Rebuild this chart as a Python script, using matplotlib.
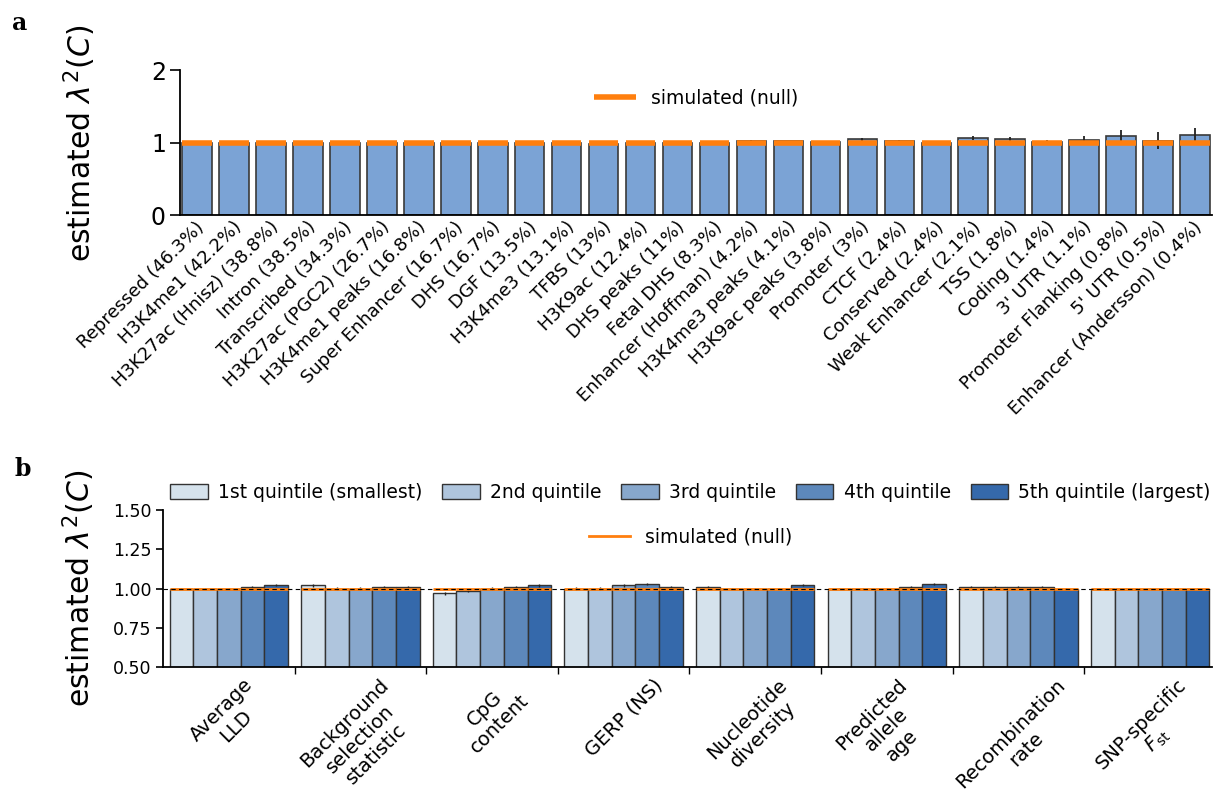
import matplotlib
matplotlib.use('Agg')
import matplotlib.pyplot as plt
import matplotlib.transforms as mtransforms
import numpy as np

# panel a: annotation categories (share of SNPs)
categories_a = ['Repressed (46.3%)', 'H3K4me1 (42.2%)', 'H3K27ac (Hnisz) (38.8%)', 'Intron (38.5%)',
                'Transcribed (34.3%)', 'H3K27ac (PGC2) (26.7%)', 'H3K4me1 peaks (16.8%)',
                'Super Enhancer (16.7%)', 'DHS (16.7%)', 'DGF (13.5%)', 'H3K4me3 (13.1%)', 'TFBS (13%)',
                'H3K9ac (12.4%)', 'DHS peaks (11%)', 'Fetal DHS (8.3%)', 'Enhancer (Hoffman) (4.2%)',
                'H3K4me3 peaks (4.1%)', 'H3K9ac peaks (3.8%)', 'Promoter (3%)', 'CTCF (2.4%)',
                'Conserved (2.4%)', 'Weak Enhancer (2.1%)', 'TSS (1.8%)', 'Coding (1.4%)',
                "3' UTR (1.1%)", 'Promoter Flanking (0.8%)', "5' UTR (0.5%)", 'Enhancer (Andersson) (0.4%)']
est_a = [1.00, 0.995, 1.00, 1.00, 0.995, 0.995, 1.00, 1.00, 1.00, 0.995, 0.995, 0.99, 0.995, 1.00,
         1.00, 1.03, 1.02, 1.01, 1.05, 1.02, 1.00, 1.07, 1.05, 1.01, 1.04, 1.10, 1.03, 1.11]
err_a = [0.003, 0.003, 0.004, 0.004, 0.004, 0.004, 0.005, 0.006, 0.006, 0.005, 0.006, 0.006, 0.006, 0.007,
         0.008, 0.012, 0.010, 0.010, 0.020, 0.012, 0.012, 0.025, 0.025, 0.035, 0.055, 0.070, 0.120, 0.100]
null_a = [1.0] * len(categories_a)

# panel b: quintiles of continuous annotations
categories_b = ['Average\nLLD', 'Background\nselection\nstatistic', 'CpG\ncontent', 'GERP (NS)',
                'Nucleotide\ndiversity', 'Predicted\nallele\nage', 'Recombination\nrate',
                'SNP-specific\n$F_{\\rm st}$']
quintile_labels = ['1st quintile (smallest)', '2nd quintile', '3rd quintile', '4th quintile',
                   '5th quintile (largest)']
q1 = [1.00, 1.02, 0.97, 1.00, 1.01, 1.00, 1.01, 1.00]
q2 = [1.00, 1.00, 0.985, 1.00, 1.00, 1.00, 1.01, 1.00]
q3 = [1.00, 1.00, 1.00, 1.02, 1.00, 1.00, 1.01, 1.00]
q4 = [1.01, 1.01, 1.01, 1.03, 1.00, 1.01, 1.01, 1.00]
q5 = [1.02, 1.01, 1.02, 1.01, 1.02, 1.03, 1.00, 1.00]
q_err = [0.006, 0.008, 0.008, 0.007, 0.006, 0.005, 0.004, 0.003]
null_b = 1.0

quintile_colors = ['#d5e2ec', '#afc5dd', '#87a7cc', '#5d88bb', '#3569ab']
orange = '#ff7f0e'

fig = plt.figure(figsize=(12.19, 8.09), dpi=100)

# ---- panel a ----
ax1 = fig.add_axes([0.148, 0.734, 0.846, 0.179])
x = np.arange(len(categories_a))
ax1.bar(x, est_a, width=0.8, yerr=err_a, color='#7ba3d5', edgecolor='#3a3a3a', linewidth=1.2,
        error_kw=dict(ecolor='#222222', elinewidth=1.3, capsize=0), zorder=2)
ax1.hlines(null_a, x - 0.4, x + 0.4, color=orange, lw=4, label='simulated (null)', zorder=3)
ax1.set_xlim(-0.45, len(categories_a) - 0.55)
ax1.set_ylim(0, 2)
ax1.set_yticks([0, 1, 2])
ax1.tick_params(axis='y', labelsize=17, length=7, width=1.2)
ax1.set_xticks(x)
ax1.set_xticklabels(categories_a, rotation=45, ha='right', fontsize=13)
ax1.tick_params(axis='x', length=0, pad=2)
# nudge the rotated labels a little to the right, like the original
shift = mtransforms.ScaledTranslation(8 / 72, 0, fig.dpi_scale_trans)
for lbl in ax1.get_xticklabels():
    lbl.set_transform(lbl.get_transform() + shift)
ax1.spines[['top', 'right']].set_visible(False)
ax1.spines[['bottom', 'left']].set_linewidth(1.3)
ax1.set_ylabel(r'estimated $\lambda^2(C)$', fontsize=21.5)
ax1.yaxis.set_label_coords(-0.080, 0.5)
ax1.legend(loc='center', bbox_to_anchor=(0.50, 0.81), frameon=False, fontsize=13.5, handlelength=2.2)

# ---- panel b ----
ax2 = fig.add_axes([0.1337, 0.1755, 0.8605, 0.194])
xb = np.arange(len(categories_b))
w = 0.18
for k, (vals, col, lab) in enumerate(zip([q1, q2, q3, q4, q5], quintile_colors, quintile_labels)):
    pos = xb + (k - 2) * w
    ax2.bar(pos, vals, width=w, yerr=q_err, color=col, edgecolor='#333333', linewidth=1,
            error_kw=dict(ecolor='#222222', elinewidth=1, capsize=0), label=lab, zorder=2)
    ax2.hlines([null_b] * len(pos), pos - w / 2, pos + w / 2, color=orange, lw=2, zorder=3)
ax2.axhline(null_b, color='black', lw=0.8, ls=(0, (4, 3)), zorder=4)
ax2.set_xlim(-0.5, len(categories_b) - 0.53)
ax2.set_ylim(0.5, 1.5)
ax2.set_yticks([0.5, 0.75, 1.0, 1.25, 1.5])
ax2.set_yticklabels(['0.50', '0.75', '1.00', '1.25', '1.50'])
ax2.tick_params(axis='y', labelsize=12.5, length=5, width=1.2)
ax2.set_xticks(xb)
ax2.set_xticklabels(categories_b, rotation=45, ha='center', fontsize=14)
ax2.set_xticks(np.arange(0.5, len(categories_b) - 1, 1), minor=True)
ax2.tick_params(axis='x', which='major', length=0, pad=6)
ax2.tick_params(axis='x', which='minor', length=5, width=1)
ax2.spines[['top', 'right']].set_visible(False)
ax2.spines[['bottom', 'left']].set_linewidth(1.3)
ax2.set_ylabel(r'estimated $\lambda^2(C)$', fontsize=21.5)
ax2.yaxis.set_label_coords(-0.063, 0.5)

handles, labels = ax2.get_legend_handles_labels()
leg_q = ax2.legend(handles, labels, loc='center', bbox_to_anchor=(0.503, 1.115), ncol=5,
                   frameon=False, fontsize=13.5, handlelength=2.0, handleheight=0.85,
                   columnspacing=1.05, handletextpad=0.55, borderaxespad=0, borderpad=0)
ax2.add_artist(leg_q)
null_line = plt.Line2D([], [], color=orange, lw=2)
ax2.legend([null_line], ['simulated (null)'], loc='center', bbox_to_anchor=(0.503, 0.828),
           frameon=False, fontsize=13.5, handlelength=2.2)

# panel letters
fig.text(0.010, 0.972, 'a', fontsize=17, fontweight='bold', family='DejaVu Serif', va='center')
fig.text(0.012, 0.420, 'b', fontsize=17, fontweight='bold', family='DejaVu Serif', va='center')

plt.savefig('out.png', dpi=100)
